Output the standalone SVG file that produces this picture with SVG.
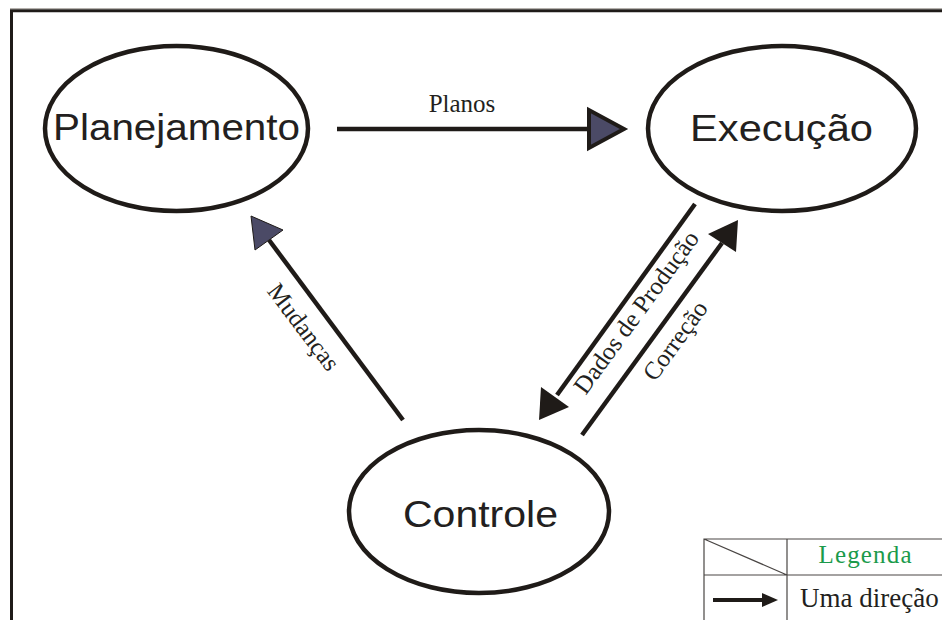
<svg xmlns="http://www.w3.org/2000/svg" width="942" height="620" viewBox="0 0 942 620">
  <style>
    .node { fill: #ffffff; stroke: #1f1b18; stroke-width: 4.5; }
    .nodeLabel { font-family: "Liberation Sans", Arial, sans-serif; font-size: 37px; fill: #231f20; text-anchor: middle; }
    .edge { stroke: #1f1b18; stroke-width: 4.5; fill: none; }
    .edgeLabel { font-family: "Liberation Serif", "Times New Roman", serif; font-size: 25px; fill: #231f20; text-anchor: middle; }
    .headSlate { fill: #4b4a66; stroke: #1f1b18; }
    .headBlack { fill: #1f1b18; stroke: none; }
    .legendLine { stroke: #4a4644; stroke-width: 1.2; fill: none; }
  </style>

  <rect x="0" y="0" width="942" height="620" fill="#ffffff"/>

  <!-- outer frame -->
  <line x1="10" y1="8.5" x2="942" y2="8.5" stroke="#b5b1ad" stroke-width="1.2"/>
  <path d="M11.5 622 V10.8 H944" fill="none" stroke="#1f1b18" stroke-width="3"/>

  <!-- connectors -->
  <g id="connectors">
    <!-- Planos: Planejamento -> Execução -->
    <g id="edge-planos">
      <line class="edge" x1="337" y1="129" x2="590" y2="129"/>
      <polygon class="headSlate" stroke-width="4" stroke-linejoin="miter" points="589,110 589,148 624,129"/>
      <text class="edgeLabel" x="462" y="112" font-size="26">Planos</text>
    </g>
    <!-- Mudanças: Controle -> Planejamento -->
    <g id="edge-mudancas">
      <line class="edge" x1="403" y1="420" x2="269" y2="240"/>
      <polygon class="headSlate" stroke-width="1" points="251,216 283,230 255,250"/>
      <text class="edgeLabel" transform="translate(297,332) rotate(53)" textLength="102" lengthAdjust="spacingAndGlyphs">Mudanças</text>
    </g>
    <!-- Dados de Produção: Execução -> Controle -->
    <g id="edge-dados">
      <line class="edge" x1="695" y1="204" x2="557" y2="395"/>
      <polygon class="headBlack" points="539,420 541,387 569,407"/>
      <text class="edgeLabel" transform="translate(643,317) rotate(-54)">Dados de Produção</text>
    </g>
    <!-- Correção: Controle -> Execução -->
    <g id="edge-correcao">
      <line class="edge" x1="582" y1="435" x2="722" y2="243"/>
      <polygon class="headBlack" points="738,220 708,234 736,252"/>
      <text class="edgeLabel" transform="translate(682,345.5) rotate(-54)">Correção</text>
    </g>
  </g>

  <!-- nodes -->
  <g id="node-planejamento">
    <ellipse class="node" cx="176.5" cy="128.5" rx="131.5" ry="82.5"/>
    <text class="nodeLabel" x="176.5" y="140" textLength="247" lengthAdjust="spacingAndGlyphs">Planejamento</text>
  </g>
  <g id="node-execucao">
    <ellipse class="node" cx="782" cy="128.5" rx="134" ry="82.5"/>
    <text class="nodeLabel" x="781.5" y="141" textLength="183" lengthAdjust="spacingAndGlyphs">Execução</text>
  </g>
  <g id="node-controle">
    <ellipse class="node" cx="479" cy="511.5" rx="130" ry="81.5"/>
    <text class="nodeLabel" x="480.5" y="527" textLength="155" lengthAdjust="spacingAndGlyphs">Controle</text>
  </g>

  <!-- legend -->
  <g id="legend">
    <path class="legendLine" d="M704 622 V539 H944 M704 575 H944 M787 539 V622 M704 539 L787 575"/>
    <text x="865" y="563" font-family="'Liberation Serif', 'Times New Roman', serif" font-size="25" fill="#1b9a4b" text-anchor="middle" textLength="93" lengthAdjust="spacing">Legenda</text>
    <line x1="713" y1="600" x2="764" y2="600" stroke="#1f1b18" stroke-width="4"/>
    <polygon points="778,600 762,593 762,607" fill="#1f1b18"/>
    <text x="800" y="607" font-family="'Liberation Serif', 'Times New Roman', serif" font-size="27" fill="#231f20">Uma direção</text>
  </g>
</svg>
